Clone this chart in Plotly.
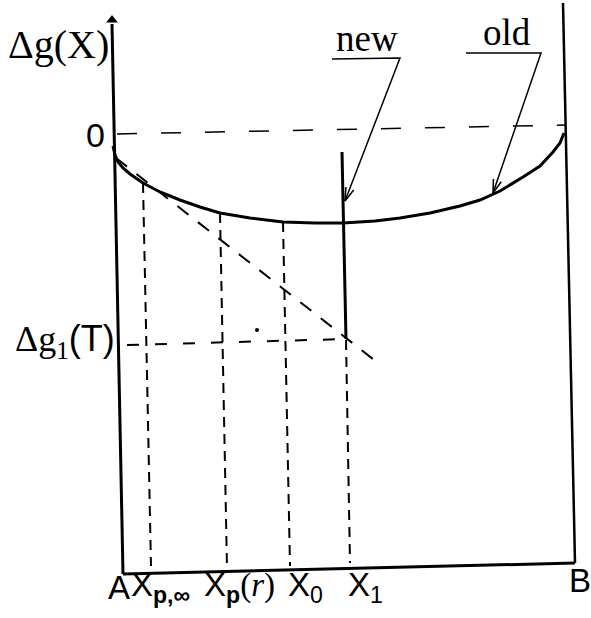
import math
import plotly.graph_objects as go

# ---- diagram data (drawing units, y grows downward) ----
# free-energy curve of the old phase, from A to B
curve_x = [113, 115, 118, 123, 130, 143, 160, 180, 200, 220, 250, 283, 315, 343, 375, 400, 430, 460, 480, 500, 523, 540, 553, 560, 564]
curve_y = [146, 155, 162, 168, 174, 183, 192, 200, 207, 213, 218, 222, 223, 223, 221, 218, 213, 206, 200, 191, 177, 166, 152, 143, 133]

# frame: left axis A, bottom edge, right edge B
left_axis_x = [123, 112]
left_axis_y = [574, 24]
bottom_x = [123, 575]
bottom_y = [574, 563]
right_x = [575, 563]
right_y = [563, 3]

# zero level
zero_x = [117, 566]
zero_y = [134, 125]

# tangent (dashed) from the A side
tangent_x = [116, 378]
tangent_y = [158, 363]

# composition markers: top on curve / level, bottom on frame
marker_names = ["Xp_inf", "Xp_r", "X0", "X1"]
marker_top_x = [143, 220, 283, 346]
marker_top_y = [183, 213, 222, 340]
marker_bot_x = [151, 227, 290, 350]
marker_bot_y = [566, 568, 566, 563]

# level Δg1(T)
level_x = [127, 346]
level_y = [345, 339]

# new phase: vertical line at X1
new_x = [342, 346]
new_y = [152, 339]

# labels with pointers
new_label_line_x = [332, 400, 345]
new_label_line_y = [59, 58, 201]
old_label_line_x = [466, 541, 493]
old_label_line_y = [53, 53, 193]

SERIF = "Liberation Serif"
SANS = "Liberation Sans"

fig = go.Figure()


def add_line(xs, ys, width, dash="solid"):
    fig.add_trace(go.Scatter(x=xs, y=ys, mode="lines",
                             line=dict(color="black", width=width, dash=dash),
                             hoverinfo="skip", showlegend=False))


# frame and curve
add_line(left_axis_x, left_axis_y, 3)
add_line(bottom_x, bottom_y, 3)
add_line(right_x, right_y, 2.5)
add_line(curve_x, curve_y, 3)
fig.add_trace(go.Scatter(x=[left_axis_x[1]], y=[left_axis_y[1] - 4], mode="markers",
                         marker=dict(symbol="triangle-up", size=10, color="black"),
                         hoverinfo="skip", showlegend=False))

# dashed construction lines
add_line(zero_x, zero_y, 1.5, "20px,24px")
add_line(tangent_x, tangent_y, 2, "14px,12px")
add_line(level_x, level_y, 2, "12px,16px")
for i in range(len(marker_names)):
    add_line([marker_top_x[i], marker_bot_x[i]], [marker_top_y[i], marker_bot_y[i]], 2, "10px,7px")

# new phase line
add_line(new_x, new_y, 3)


# pointer lines with open arrow heads
def pointer(xs, ys):
    add_line(xs, ys, 1.5)
    tx, ty = xs[-1], ys[-1]
    ang = math.atan2(ys[-2] - ty, xs[-2] - tx)
    hx, hy = [], []
    for s in (0.3, -0.3):
        hx += [tx + 14 * math.cos(ang + s), tx, None]
        hy += [ty + 14 * math.sin(ang + s), ty, None]
    add_line(hx, hy, 1.5)


pointer(new_label_line_x, new_label_line_y)
pointer(old_label_line_x, old_label_line_y)

# small dot
fig.add_trace(go.Scatter(x=[257], y=[330], mode="markers",
                         marker=dict(size=4, color="black"),
                         hoverinfo="skip", showlegend=False))


# text labels
def label(x, y, text, family, size, xanchor="center", yanchor="middle"):
    fig.add_annotation(x=x, y=y, text=text, showarrow=False,
                       font=dict(family=family, size=size, color="black"),
                       xanchor=xanchor, yanchor=yanchor)


label(58, 44, "Δg(X)", SERIF, 40)
label(95, 135, "0", SANS, 34)
label(13, 341, "Δg<sub>1</sub><span style='font-family:Liberation Sans'>(T)</span>", SERIF, 36, xanchor="left")
label(367, 38, "new", SERIF, 37)
label(507, 32, "old", SERIF, 37)

bottom_y_lbl = 587
label(106, bottom_y_lbl, "A", SANS, 33, xanchor="left")
label(129, bottom_y_lbl, "X<sub><b>p,∞</b></sub>", SANS, 33, xanchor="left")
label(202, bottom_y_lbl, "X<sub><b>p</b></sub><span style='font-family:Liberation Serif'>(<i>r</i>)</span>", SANS, 33, xanchor="left")
label(286, bottom_y_lbl, "X<sub>0</sub>", SANS, 33, xanchor="left")
label(346, bottom_y_lbl, "X<sub>1</sub>", SANS, 33, xanchor="left")
label(567, 580, "B", SANS, 33, xanchor="left")

fig.update_layout(
    width=591, height=618,
    margin=dict(l=0, r=0, t=0, b=0),
    paper_bgcolor="white", plot_bgcolor="white",
    xaxis=dict(range=[0, 591], visible=False, fixedrange=True),
    yaxis=dict(range=[618, 0], visible=False, fixedrange=True),
    showlegend=False,
)

fig.write_html("out.html")
